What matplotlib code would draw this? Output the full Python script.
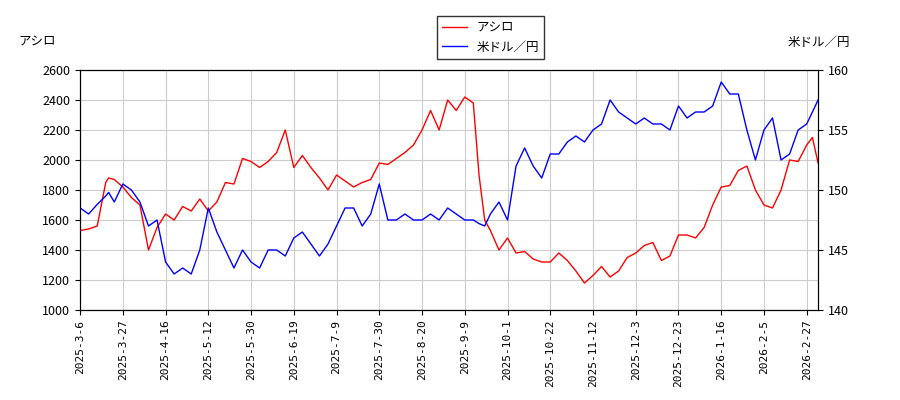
import matplotlib
matplotlib.use("Agg")
import matplotlib.pyplot as plt

plt.rcParams['font.family'] = ['Noto Sans CJK JP', 'DejaVu Sans']

# trading-day index positions
idx = [0, 3, 6, 9, 10, 12, 15, 18, 21, 24, 27, 30, 33, 36, 39, 42, 45, 48, 51, 54,
       57, 60, 63, 66, 69, 72, 75, 78, 81, 84, 87, 90, 93, 96, 99, 102, 105, 108, 111,
       114, 117, 120, 123, 126, 129, 132, 135, 138, 140, 142, 144, 147, 150, 153, 156,
       159, 162, 165, 168, 171, 174, 177, 180, 183, 186, 189, 192, 195, 198, 201, 204,
       207, 210, 213, 216, 219, 222, 225, 228, 231, 234, 237, 240, 243, 246, 249, 252,
       255, 257, 259]
ashiro = [1530, 1540, 1560, 1850, 1880, 1870, 1820, 1750, 1700, 1400, 1550, 1640, 1600,
          1690, 1660, 1740, 1660, 1720, 1850, 1840, 2010, 1990, 1950, 1990, 2050, 2200,
          1950, 2030, 1950, 1880, 1800, 1900, 1860, 1820, 1850, 1870, 1980, 1970, 2010,
          2050, 2100, 2200, 2330, 2200, 2400, 2330, 2420, 2380, 1900, 1600, 1530, 1400,
          1480, 1380, 1390, 1340, 1320, 1320, 1380, 1330, 1260, 1180, 1230, 1290, 1220,
          1260, 1350, 1380, 1430, 1450, 1330, 1360, 1500, 1500, 1480, 1550, 1700, 1820,
          1830, 1930, 1960, 1800, 1700, 1680, 1800, 2000, 1990, 2100, 2150, 1980]
usdjpy = [148.5, 148, 148.8, 149.5, 149.8, 149, 150.5, 150, 149, 147, 147.5, 144, 143,
          143.5, 143, 145, 148.5, 146.5, 145, 143.5, 145, 144, 143.5, 145, 145, 144.5,
          146, 146.5, 145.5, 144.5, 145.5, 147, 148.5, 148.5, 147, 148, 150.5, 147.5,
          147.5, 148, 147.5, 147.5, 148, 147.5, 148.5, 148, 147.5, 147.5, 147.2, 147,
          148, 149, 147.5, 152, 153.5, 152, 151, 153, 153, 154, 154.5, 154, 155, 155.5,
          157.5, 156.5, 156, 155.5, 156, 155.5, 155.5, 155, 157, 156, 156.5, 156.5, 157,
          159, 158, 158, 155, 152.5, 155, 156, 152.5, 153, 155, 155.5, 156.5, 157.5]

tick_pos = list(range(0, 256, 15))
tick_labels = ["2025-3-6", "2025-3-27", "2025-4-16", "2025-5-12", "2025-5-30",
               "2025-6-19", "2025-7-9", "2025-7-30", "2025-8-20", "2025-9-9",
               "2025-10-1", "2025-10-22", "2025-11-12", "2025-12-3", "2025-12-23",
               "2026-1-16", "2026-2-5", "2026-2-27"]

fig = plt.figure(figsize=(9, 4), dpi=100)
ax = fig.add_axes([0.089, 0.225, 0.82, 0.6])
ax.plot(idx, ashiro, color="red", lw=1, label="アシロ")
ax.set_ylim(1000, 2600)
ax.set_xlim(0, 259)
ax.set_yticks(range(1000, 2601, 200))
ax.set_xticks(tick_pos)
ax.set_xticklabels(tick_labels, rotation=90, fontsize=8, family=['DejaVu Sans Mono'])
ax.tick_params(axis='y', labelsize=9)
ax.grid(True, color="#cccccc", lw=0.8)

ax2 = ax.twinx()
ax2.plot(idx, usdjpy, color="blue", lw=1, label="米ドル／円")
ax2.set_ylim(140, 160)
ax2.set_yticks(range(140, 161, 5))
ax2.tick_params(axis='y', labelsize=9)

fig.text(0.02, 0.885, "アシロ", fontsize=9)
fig.text(0.945, 0.885, "米ドル／円", fontsize=9, ha="right")

h1, l1 = ax.get_legend_handles_labels()
h2, l2 = ax2.get_legend_handles_labels()
fig.legend(h1 + h2, l1 + l2, loc="upper center", bbox_to_anchor=(0.545, 0.975),
           fontsize=9, fancybox=False, edgecolor="black")

fig.savefig("out.png")
